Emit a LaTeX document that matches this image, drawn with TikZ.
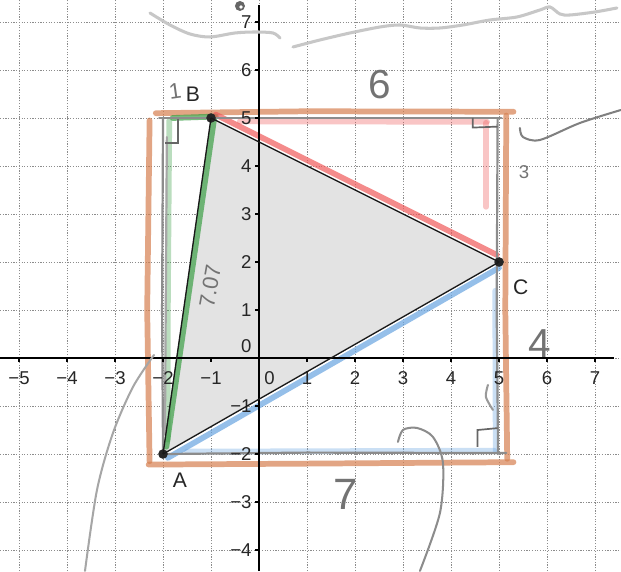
\documentclass[tikz,border=0pt]{standalone}
\usepackage{fontspec}
\setmainfont{Liberation Sans}
\begin{document}
\begin{tikzpicture}[
  gridline/.style={black!45, line width=0.5pt, dash pattern=on 0.7pt off 0.9pt},
  axisline/.style={black, line width=0.9pt},
  lab/.style={font=\fontsize{11}{13}\selectfont, text=black!85, inner sep=0pt},
  ptlab/.style={font=\fontsize{12.5}{15}\selectfont, text=black!85, inner sep=0pt},
  hand/.style={text=black!55, inner sep=0pt},
  dot/.style={circle, fill=black!85, inner sep=0pt, minimum size=0.2cm},
  pencil/.style={line width=3.4pt, line cap=round, opacity=0.7},
  soft/.style={opacity=0.35},
  orangep/.style={pencil, color={rgb,255:red,214;green,128;blue,80}},
  greenp/.style={pencil, color={rgb,255:red,60;green,160;blue,70}},
  redp/.style={pencil, color={rgb,255:red,240;green,90;blue,90}},
  bluep/.style={pencil, color={rgb,255:red,105;green,165;blue,225}},
  graypen/.style={black!45, line width=1.3pt, line cap=round},
  squiggle/.style={black!35, line width=1.2pt, line cap=round},
  edge/.style={black!90, line width=0.8pt},
  ramark/.style={black!60, line width=1pt}
]
\useasboundingbox (-5.396,-4.4375) rectangle (7.54,7.458);
\clip (-5.396,-4.4375) rectangle (7.54,7.458);
\fill[white] (-5.396,-4.4375) rectangle (7.54,7.458);

% grid
\foreach \x in {-5,...,7} \draw[gridline] (\x,-4.4375) -- (\x,7.458);
\foreach \y in {-4,...,7} \draw[gridline] (-5.396,\y) -- (7.54,\y);

% points
\coordinate (PA) at (-2,-2);
\coordinate (PB) at (-1,5);
\coordinate (PC) at (5,2);

% shaded triangle
\fill[black!11] (PA) -- (PB) -- (PC) -- cycle;

% orange pencil rectangle
\draw[orangep] (-2.15,5.1) -- (1,5.14) -- (5.3,5.13);
\draw[orangep] (-2.28,4.95) -- (-2.33,1) -- (-2.28,-2.15);
\draw[orangep] (-2.3,-2.22) -- (1,-2.2) -- (5.3,-2.17);
\draw[orangep] (5.15,5.05) -- (5.13,1) -- (5.17,-2.1);

% green triangle
\draw[greenp] (-1.93,-1.85) -- (-0.93,5.02);
\draw[greenp, soft] (-1.87,4.95) -- (-1.9,1) -- (-1.9,-1.7);
\draw[greenp] (-1.8,5.0) -- (-0.9,5.03);

% red triangle
\draw[redp] (-0.9,5.07) -- (4.95,2.15);
\draw[redp, soft] (-0.4,4.93) -- (4.75,4.92);
\draw[redp, soft] (4.73,4.9) -- (4.73,3.15);

% blue triangle
\draw[bluep] (-1.9,-2.08) -- (5.0,1.88);
\draw[bluep, soft] (-1.5,-1.95) -- (4.9,-1.93);
\draw[bluep, soft] (4.93,-1.95) -- (4.92,1.4);

% gray pencil rectangle
\draw[graypen] (-2.08,5.0) -- (5.05,5.0);
\draw[graypen] (-2.0,5.0) -- (-2.02,1) -- (-2.0,-2.0);
\draw[graypen, black!35] (-1.92,4.6) -- (-1.95,0) -- (-1.96,-1.6);
\draw[graypen] (-2.0,-2.0) -- (1,-1.97) -- (5.15,-1.98);
\draw[graypen] (4.97,5.0) -- (4.95,1) -- (4.98,-2.0);

% right angle marks
\draw[ramark] (-1.95,4.48) -- (-1.69,4.48) -- (-1.69,4.97);
\draw[ramark] (4.45,5.0) -- (4.45,4.8) -- (4.97,4.82);
\draw[ramark] (4.55,-1.85) -- (4.55,-1.5) -- (4.97,-1.46);

% axes
\draw[axisline] (-5.396,0) -- (7.4,0);
\draw[axisline] (0,-4.4375) -- (0,7.35);
\foreach \x in {-5,...,-1,1,2,...,7} \draw[axisline] (\x,0) -- (\x,-0.08);
\foreach \y in {-4,...,-1,1,2,...,7} \draw[axisline] (0,\y) -- (-0.08,\y);

% axis labels
\foreach \x/\t in {-5/−5,-4/−4,-3/−3,-2/−2,-1/−1,1/1,2/2,3/3,4/4,5/5,6/6,7/7}
  \node[lab] at (\x,-0.42) {\t};
\node[lab] at (0.22,-0.42) {0};
\foreach \y/\t in {-4/−4,-3/−3,-2/−2,-1/−1,1/1,2/2,3/3,4/4,5/5,6/6,7/7}
  \node[lab, anchor=east] at (-0.15,\y) {\t};
\node[lab, anchor=east] at (-0.15,0.24) {0};

% triangle edges and vertices
\node[dot] (A) at (PA) {};
\node[dot] (B) at (PB) {};
\node[dot] (C) at (PC) {};
\draw[edge] (A.center) -- (B.center);
\draw[edge] (B.center) -- (C.center);
\draw[edge] (C.center) -- (A.center);
\node[ptlab] (lA) at (-1.65,-2.55) {A};
\node[ptlab] (lB) at (-1.38,5.5) {B};
\node[ptlab] (lC) at (5.45,1.47) {C};

% handwritten numbers
\node[hand, font=\fontsize{13}{15}\selectfont, rotate=8] (h1) at (-1.75,5.55) {1};
\node[hand, font=\fontsize{24}{28}\selectfont] (h6) at (2.52,5.7) {6};
\node[hand, font=\fontsize{11}{13}\selectfont] (h3) at (5.52,3.87) {3};
\node[hand, font=\fontsize{24}{28}\selectfont] (h4) at (5.85,0.3) {4};
\node[hand, font=\fontsize{26}{30}\selectfont] (h7) at (1.8,-2.85) {7};
\node[hand, font=\fontsize{13}{15}\selectfont, rotate=80] (h707) at (-1.02,1.5) {7.07};

% freehand squiggles (pixel coordinates)
\begin{scope}[shift={(-5.396cm,7.458cm)}, x=0.020833cm, y=-0.020833cm]
  \draw[squiggle, black!22, line width=1.8pt] plot[smooth] coordinates {(150,13) (170,25) (190,34) (210,37) (235,33) (255,32) (273,33) (280,38)};
  \draw[squiggle, black!22, line width=1.8pt] plot[smooth] coordinates {(293,47) (320,40) (350,33) (380,27) (400,25) (420,28) (440,28) (463,25) (490,20) (517,17) (540,10) (550,7) (560,14) (570,15) (595,12) (617,8)};
  \fill[black!60] (240,6) circle (5);
  \fill[white] (241,7) circle (1.8);
  \draw[squiggle, black!50] plot[smooth] coordinates {(621,110) (580,123) (540,140) (523,137) (520,128)};
  \draw[squiggle] plot[smooth] coordinates {(154,355) (133,387) (113,433) (97,490) (85,571)};
  \draw[squiggle, black!45] plot[smooth] coordinates {(398,442) (403,430) (417,428) (433,437) (443,463) (440,513) (420,571)};
  \draw[squiggle, black!40] plot[smooth] coordinates {(488,385) (486,397) (493,410)};
\end{scope}
\end{tikzpicture}
\end{document}
